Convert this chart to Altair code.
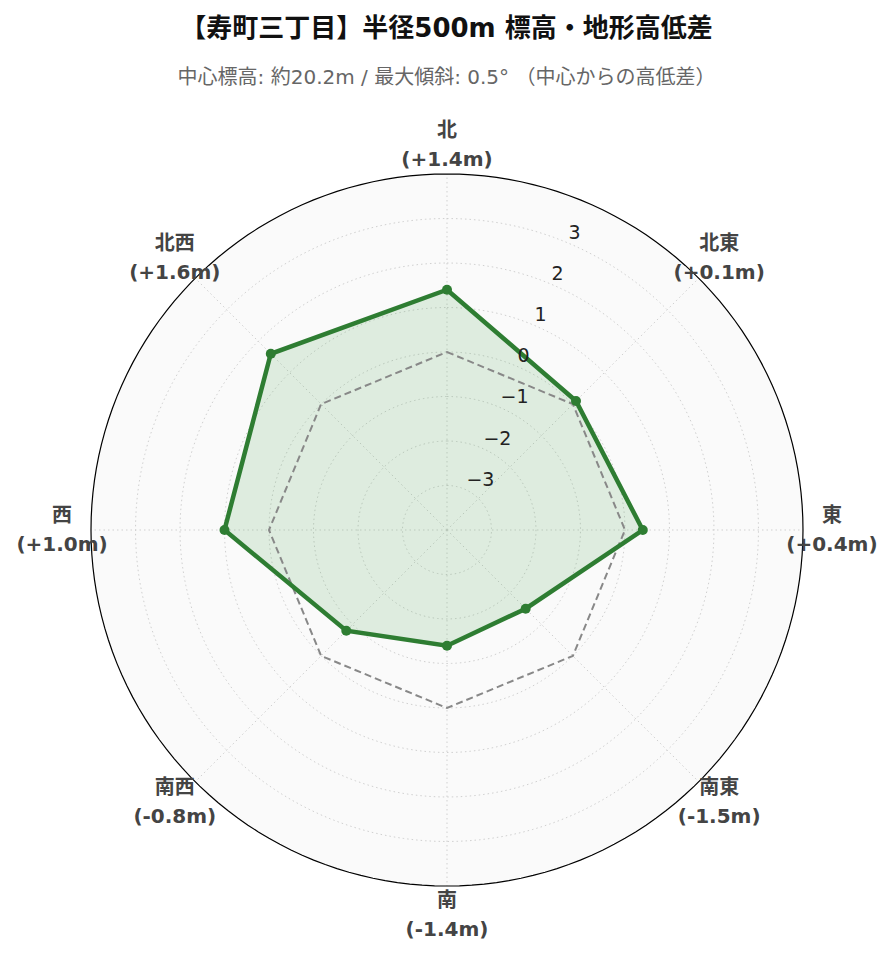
import math
import altair as alt
import pandas as pd

# ---- data ----
directions = ["北", "北東", "東", "南東", "南", "南西", "西", "北西"]
angles = [0, 45, 90, 135, 180, 225, 270, 315]
values = [1.4, 0.1, 0.4, -1.5, -1.4, -0.8, 1.0, 1.6]
reference = [0, 0, 0, 0, 0, 0, 0, 0]
tick_values = [-3, -2, -1, 0, 1, 2, 3]
tick_labels = ["−3", "−2", "−1", "0", "1", "2", "3"]
r_min, r_max = -4, 4
title_text = "【寿町三丁目】半径500m 標高・地形高低差"
subtitle_text = "中心標高: 約20.2m / 最大傾斜: 0.5°  （中心からの高低差）"

FONT = "DejaVu Sans, Noto Sans CJK JP, sans-serif"

# ---- tables ----
def ring_rows(levels, name):
    rows = []
    for lv in levels:
        for d in range(0, 361, 2):
            rows.append({"ring": f"{name}{lv}", "v": lv, "deg": d})
    return pd.DataFrame(rows)

grid_df = ring_rows(tick_values, "g")
outer_df = ring_rows([r_max], "o")

spoke_rows = []
for a in angles:
    spoke_rows.append({"spoke": a, "deg": a, "v": r_min})
    spoke_rows.append({"spoke": a, "deg": a, "v": r_max})
spoke_df = pd.DataFrame(spoke_rows)

data_df = pd.DataFrame({
    "dir": directions, "deg": angles, "v": values, "ref": reference,
    "order": list(range(len(directions))),
})
data_df["label"] = [f"{d}\n({v:+.1f}m)" for d, v in zip(directions, values)]

tick_df = pd.DataFrame({"v": tick_values, "t": tick_labels, "deg": [22.5] * len(tick_values)})

# ---- scales ----
X = alt.Scale(domain=[-9.865, 9.843], nice=False, zero=False)
Y = alt.Scale(domain=[-9.528, 9.483], nice=False, zero=False)


def polar(chart, field="v", rr=None, extra=0.0):
    r_expr = f"datum.{field} - ({r_min}) + {extra}" if rr is None else str(rr)
    return chart.transform_calculate(
        r=r_expr
    ).transform_calculate(
        px="datum.r * sin(datum.deg * PI / 180)",
        py="datum.r * cos(datum.deg * PI / 180)",
    )


def xy():
    return dict(
        x=alt.X("px:Q", scale=X, axis=None),
        y=alt.Y("py:Q", scale=Y, axis=None),
    )


background = polar(alt.Chart(outer_df)).mark_line(
    interpolate="linear-closed", fill="#fafafa", strokeWidth=0, stroke=None
).encode(order=alt.Order("deg:Q"), **xy())

grid = polar(alt.Chart(grid_df)).mark_line(
    stroke="#d0d0d0", strokeWidth=1, strokeDash=[1.5, 3]
).encode(detail="ring:N", order=alt.Order("deg:Q"), **xy())

spokes = polar(alt.Chart(spoke_df)).mark_line(
    stroke="#d0d0d0", strokeWidth=1, strokeDash=[1.5, 3]
).encode(detail="spoke:N", order=alt.Order("v:Q"), **xy())

outer = polar(alt.Chart(outer_df)).mark_line(
    interpolate="linear-closed", stroke="#000000", strokeWidth=1.2
).encode(order=alt.Order("deg:Q"), **xy())

fill = polar(alt.Chart(data_df)).mark_line(
    interpolate="linear-closed", fill="#43a047", fillOpacity=0.15, strokeWidth=0, stroke=None
).encode(order=alt.Order("order:Q"), **xy())

ref_line = polar(alt.Chart(data_df), field="ref").mark_line(
    interpolate="linear-closed", stroke="#888888", strokeWidth=2, strokeDash=[7, 4]
).encode(order=alt.Order("order:Q"), **xy())

data_line = polar(alt.Chart(data_df)).mark_line(
    interpolate="linear-closed", stroke="#2e7d32", strokeWidth=4.5
).encode(order=alt.Order("order:Q"), **xy())

points = polar(alt.Chart(data_df)).mark_point(
    filled=True, color="#2e7d32", size=100, opacity=1
).encode(**xy())

ticks = polar(alt.Chart(tick_df), extra=0.2).mark_text(
    align="left", baseline="middle", dx=-1, dy=-1, font=FONT, fontSize=19, color="#222222"
).encode(text="t:N", **xy())

labels = polar(alt.Chart(data_df), rr=8.65).mark_text(
    align="center", baseline="middle", lineBreak="\n", lineHeight=29, dy=-14,
    font=FONT, fontSize=20, fontWeight="bold", color="#444444"
).encode(text="label:N", **xy())

chart = alt.layer(
    background, grid, spokes, outer, fill, ref_line, data_line, points, ticks, labels
).properties(
    width=877,
    height=846,
    autosize=alt.AutoSizeParams(type="none"),
    padding={"left": 0, "right": 0, "top": 100, "bottom": 0},
    title=alt.TitleParams(
        text=title_text,
        subtitle=subtitle_text,
        anchor="middle",
        font=FONT,
        fontSize=26,
        fontWeight="bold",
        color="#111111",
        subtitleFont=FONT,
        subtitleFontSize=20,
        subtitleColor="#666666",
        subtitlePadding=26,
        offset=20,
    ),
).configure_view(stroke=None)

chart.save("out.html", embed_options={"renderer": "svg", "actions": False})
